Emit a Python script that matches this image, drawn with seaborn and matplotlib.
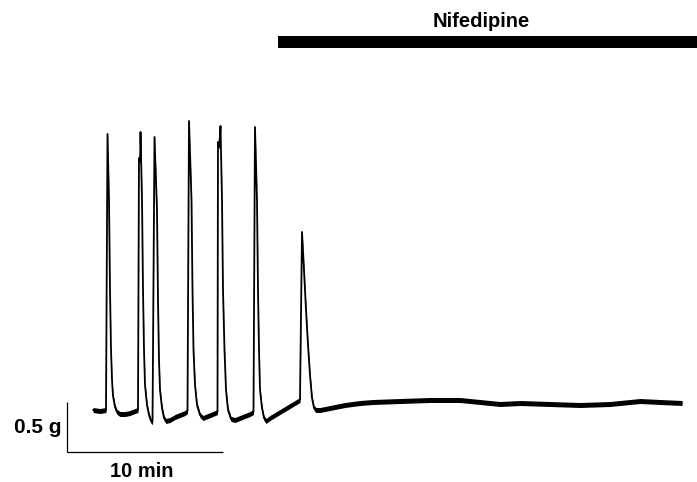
import matplotlib
matplotlib.use("Agg")
import matplotlib.pyplot as plt
import seaborn as sns

# Isometric tension recording (time in minutes, tension in grams),
# one line per trace segment so the two lists stay aligned.
time_min = [
    1.667, 2.115, 2.500,
    2.596, 2.692, 2.756, 2.821, 2.885, 2.949, 3.077, 3.205, 3.397,
    3.718, 4.038, 4.359, 4.551,
    4.615, 4.686, 4.712, 4.808, 4.872, 4.936, 5.000, 5.128, 5.256, 5.385, 5.481,
    5.609, 5.769, 5.833, 5.897, 5.962, 6.090, 6.218, 6.346, 6.603,
    6.923, 7.244, 7.564, 7.724,
    7.820, 7.981, 8.045, 8.109, 8.205, 8.333, 8.526, 8.718, 9.038,
    9.359, 9.647,
    9.679, 9.760, 9.840, 9.936, 10.000, 10.096, 10.192, 10.321, 10.513, 10.769,
    11.090, 11.410, 11.731, 11.955,
    12.050, 12.179, 12.244, 12.308, 12.372, 12.500, 12.628, 12.756,
    13.013, 13.333, 13.654, 13.974, 14.295, 14.615, 14.936,
    15.064, 15.192, 15.321, 15.449, 15.577, 15.705, 15.833, 15.962,
    16.218, 16.859, 17.821, 18.782, 19.615, 21.346, 23.269, 25.192, 26.474,
    27.756, 29.038, 30.962, 32.885, 34.808, 36.731, 38.013, 39.423,
]
tension_g = [
    0.42, 0.41, 0.42,
    3.18, 2.52, 1.62, 1.02, 0.72, 0.56, 0.45, 0.40, 0.38,
    0.38, 0.39, 0.41, 0.42,
    2.94, 2.90, 3.20, 2.52, 1.62, 1.02, 0.67, 0.47, 0.37, 0.31, 0.30,
    3.15, 2.42, 1.52, 0.92, 0.62, 0.44, 0.34, 0.31, 0.32,
    0.35, 0.37, 0.39, 0.41,
    3.31, 2.52, 1.62, 1.02, 0.67, 0.47, 0.37, 0.34, 0.36,
    0.38, 0.40,
    3.10, 3.05, 3.26, 2.52, 1.62, 1.02, 0.62, 0.42, 0.33, 0.32,
    0.34, 0.36, 0.38, 0.40,
    3.25, 2.52, 1.62, 1.02, 0.62, 0.44, 0.34, 0.31,
    0.34, 0.37, 0.40, 0.43, 0.46, 0.49, 0.52,
    2.20, 1.82, 1.42, 1.07, 0.77, 0.54, 0.44, 0.42,
    0.42, 0.44, 0.47, 0.49, 0.50, 0.51, 0.52, 0.52, 0.50,
    0.48, 0.49, 0.48, 0.47, 0.48, 0.51, 0.50, 0.49,
]

drug_label = "Nifedipine"
drug_start_min = 13.5
scale_time_min = 10
scale_tension_g = 0.5
scale_time_label = "10 min"
scale_tension_label = "0.5 g"

sns.set_style("white")
plt.rcParams["font.family"] = ["Liberation Sans", "DejaVu Sans"]
plt.rcParams["text.color"] = "black"

fig = plt.figure(figsize=(6.97, 4.82), dpi=100)
ax = fig.add_axes([0, 0, 1, 1])
ax.set_xlim(-4.295, 40.385)
ax.set_ylim(-0.30, 4.52)
ax.axis("off")

# Recording noise band around the trace
ax.fill_between(time_min,
                [v - 0.025 for v in tension_g],
                [v + 0.025 for v in tension_g],
                color="black", linewidth=0)
sns.lineplot(x=time_min, y=tension_g, estimator=None, sort=False,
             color="black", linewidth=1.3, ax=ax)

# Drug application bar
ax.fill_between([drug_start_min, 40.385], 4.04, 4.16, color="black", linewidth=0)
ax.text(26.55, 4.25, drug_label, ha="center", va="baseline",
        fontsize=14.5, fontweight="bold", color="black")

# Scale bars
ax.plot([0, 0], [0, scale_tension_g], color="black", linewidth=0.9,
        solid_capstyle="butt")
ax.plot([0, scale_time_min], [0, 0], color="black", linewidth=0.9,
        solid_capstyle="butt")
ax.text(-0.38, 0.19, scale_tension_label, ha="right", va="baseline",
        fontsize=15, fontweight="bold", color="black")
ax.text(4.8, -0.25, scale_time_label, ha="center", va="baseline",
        fontsize=14.5, fontweight="bold", color="black")

fig.savefig("out.png", dpi=100)
